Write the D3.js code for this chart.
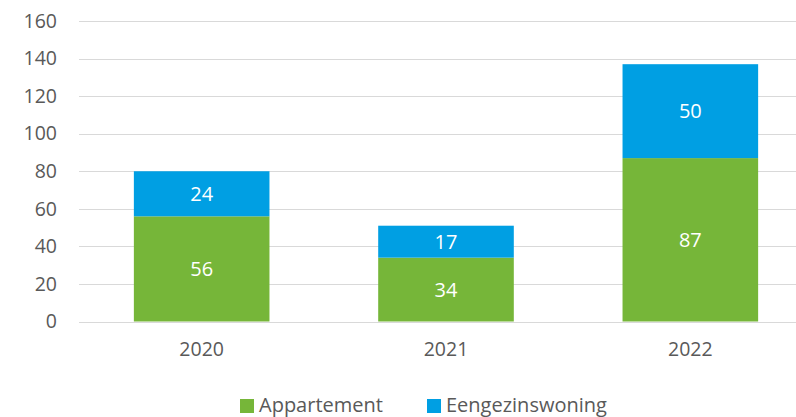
<!DOCTYPE html>
<html>
<head>
<meta charset="utf-8">
<script src="https://cdnjs.cloudflare.com/ajax/libs/d3/7.8.5/d3.min.js"></script>
<style>
  body { margin: 0; background: #fff; }
  text { font-family: "Open Sans", "Noto Sans", sans-serif; }
</style>
</head>
<body>
<div id="chart"></div>
<script>
// data
var years = ["2020", "2021", "2022"];
var appartement = [56, 34, 87];
var eengezinswoning = [24, 17, 50];
var seriesNames = ["Appartement", "Eengezinswoning"];
var seriesColors = ["#76B639", "#009FE3"];
var yTicks = [0, 20, 40, 60, 80, 100, 120, 140, 160];

var width = 796, height = 417;

var svg = d3.select("#chart").append("svg")
    .attr("width", width)
    .attr("height", height);

// scales
var x = d3.scaleBand()
    .domain(years)
    .range([79.5, 812.5])
    .paddingInner(0.445)
    .paddingOuter(0.2225);

var y = d3.scaleLinear()
    .domain([0, 160])
    .range([321.5, 21]);

// gridlines
svg.append("g")
    .selectAll("line")
    .data(yTicks)
    .enter().append("line")
    .attr("x1", 79)
    .attr("x2", width)
    .attr("y1", function (d) { return Math.round(y(d)) + 0.5; })
    .attr("y2", function (d) { return Math.round(y(d)) + 0.5; })
    .style("stroke", "#d9d9d9")
    .style("stroke-width", 1);

// y axis labels
var yAxis = svg.append("g")
    .attr("transform", "translate(57,0)")
    .call(d3.axisLeft(y).tickValues(yTicks).tickSize(0).tickPadding(0));
yAxis.select(".domain").remove();
yAxis.selectAll("text")
    .style("font-size", "19.5px")
    .style("fill", "#595959");

// x axis labels
var xAxis = svg.append("g")
    .attr("transform", "translate(0,322)")
    .call(d3.axisBottom(x).tickSize(0).tickPadding(20));
xAxis.select(".domain").remove();
xAxis.selectAll("text")
    .style("font-size", "19.5px")
    .style("fill", "#595959");

// stack
var rows = years.map(function (yr, i) {
    return { year: yr, Appartement: appartement[i], Eengezinswoning: eengezinswoning[i] };
});
var stacked = d3.stack().keys(seriesNames)(rows);

var layers = svg.selectAll(".layer")
    .data(stacked)
    .enter().append("g")
    .attr("class", "layer")
    .style("fill", function (d, i) { return seriesColors[i]; });

layers.selectAll("rect")
    .data(function (d) { return d; })
    .enter().append("rect")
    .attr("x", function (d) { return x(d.data.year); })
    .attr("width", x.bandwidth())
    .attr("y", function (d) { return y(d[1]); })
    .attr("height", function (d) { return y(d[0]) - y(d[1]); });

layers.selectAll("text")
    .data(function (d) { return d; })
    .enter().append("text")
    .attr("x", function (d) { return x(d.data.year) + x.bandwidth() / 2; })
    .attr("y", function (d) { return (y(d[0]) + y(d[1])) / 2; })
    .attr("dy", "0.36em")
    .attr("text-anchor", "middle")
    .style("fill", "#ffffff")
    .style("font-size", "20px")
    .text(function (d) { return d[1] - d[0]; });

// legend
var legendX = [240, 427];
var legend = svg.selectAll(".legend")
    .data(seriesNames)
    .enter().append("g")
    .attr("class", "legend")
    .attr("transform", function (d, i) { return "translate(" + legendX[i] + ",399)"; });

legend.append("rect")
    .attr("width", 14)
    .attr("height", 14)
    .style("fill", function (d, i) { return seriesColors[i]; });

legend.append("text")
    .attr("x", 19)
    .attr("y", 13)
    .style("font-size", "20px")
    .style("fill", "#595959")
    .text(function (d) { return d; });
</script>
</body>
</html>
